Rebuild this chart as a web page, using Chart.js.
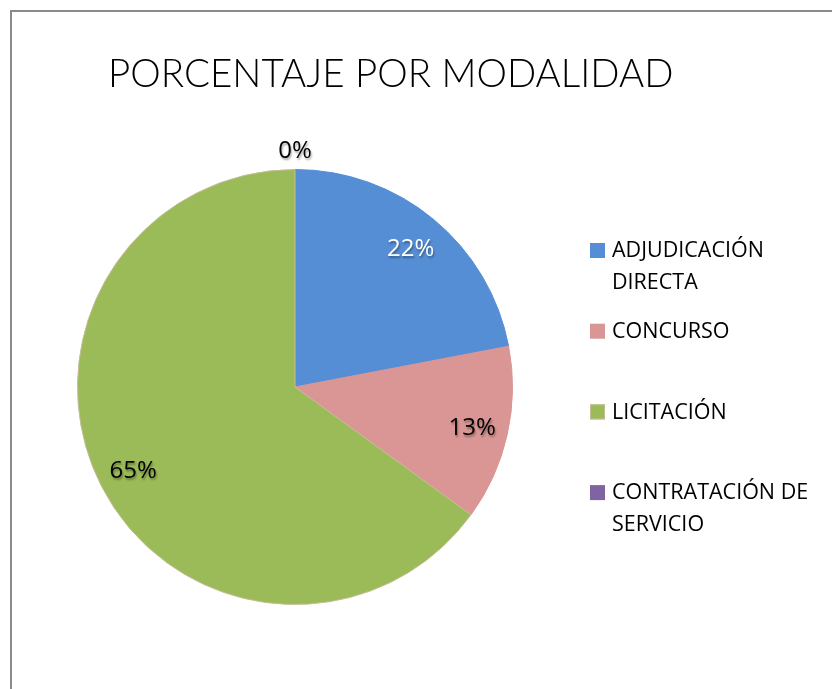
<!DOCTYPE html>
<html>
<head>
<meta charset="utf-8">
<script src="https://cdn.jsdelivr.net/npm/chart.js@4.4.0/dist/chart.umd.min.js"></script>
<style>
    body { margin: 0; background: #fff; overflow: hidden; }
    #frame {
        position: absolute; left: 10px; top: 10px; width: 840px; height: 700px;
        border-left: 2px solid #8a8a8a; border-top: 2px solid #8a8a8a;
    }
    #chart { position: absolute; left: 0; top: 0; }
</style>
</head>
<body>
<div id="frame"></div>
<canvas id="chart" width="832" height="689"></canvas>
<script>
// Chart data
const chartTitle = 'PORCENTAJE POR MODALIDAD';
const categories = ['ADJUDICACIÓN DIRECTA', 'CONCURSO', 'LICITACIÓN', 'CONTRATACIÓN DE SERVICIO'];
const legendLines = [['ADJUDICACIÓN', 'DIRECTA'], ['CONCURSO'], ['LICITACIÓN'], ['CONTRATACIÓN DE', 'SERVICIO']];
const percentages = [22, 13, 65, 0];
const sliceColors = ['#558ED5', '#D99694', '#9BBB59', '#8064A2'];
const sliceBorders = ['#558ED5', '#D99694', '#C4BD97', '#8064A2'];
const labelColors = ['#ffffff', '#000000', '#000000', '#000000'];

// Title, legend and percentage labels
const decorPlugin = {
    id: 'decor',
    afterDraw(chart) {
        const ctx = chart.ctx;
        ctx.save();

        // title
        ctx.fillStyle = '#000';
        ctx.font = '300 38.5px Lato, "DejaVu Sans", sans-serif';
        ctx.textAlign = 'left';
        ctx.textBaseline = 'alphabetic';
        ctx.fillText(chartTitle, 108, 87);

        // percentage labels
        const arcs = chart.getDatasetMeta(0).data;
        ctx.font = '24px "Open Sans", sans-serif';
        ctx.textAlign = 'center';
        ctx.textBaseline = 'middle';
        arcs.forEach((arc, i) => {
            const p = arc.getProps(['x', 'y', 'startAngle', 'endAngle', 'outerRadius'], true);
            const mid = (p.startAngle + p.endAngle) / 2;
            const dist = percentages[i] === 0 ? p.outerRadius + 20 : p.outerRadius * 0.835;
            const lx = p.x + Math.cos(mid) * dist;
            const ly = p.y + Math.sin(mid) * dist + 2;
            ctx.shadowColor = 'rgba(0,0,0,0.35)';
            ctx.shadowOffsetX = 1;
            ctx.shadowOffsetY = 2;
            ctx.shadowBlur = 2;
            ctx.fillStyle = labelColors[i];
            ctx.fillText(percentages[i] + '%', lx, ly);
        });
        ctx.shadowColor = 'transparent';

        // legend
        ctx.font = '21.5px "Open Sans", sans-serif';
        ctx.textAlign = 'left';
        legendLines.forEach((lines, i) => {
            const top = 243 + i * 80.7;
            ctx.fillStyle = sliceColors[i];
            ctx.fillRect(590, top, 15, 15);
            if (i === 2) {
                ctx.strokeStyle = sliceBorders[i];
                ctx.lineWidth = 1;
                ctx.strokeRect(590.5, top + 0.5, 14, 14);
            }
            ctx.fillStyle = '#000';
            lines.forEach((line, j) => {
                ctx.fillText(line, 612, top + 8 + j * 32);
            });
        });
        ctx.restore();
    }
};

new Chart(document.getElementById('chart'), {
    type: 'pie',
    data: {
        labels: categories,
        datasets: [{
            data: percentages,
            backgroundColor: sliceColors,
            borderColor: sliceBorders,
            borderWidth: 1,
            hoverOffset: 0
        }]
    },
    options: {
        responsive: false,
        animation: false,
        layout: {
            padding: { left: 77, right: 319, top: 169, bottom: 84 }
        },
        plugins: {
            legend: { display: false },
            title: { display: false },
            tooltip: { enabled: false }
        }
    },
    plugins: [decorPlugin]
});
</script>
</body>
</html>
